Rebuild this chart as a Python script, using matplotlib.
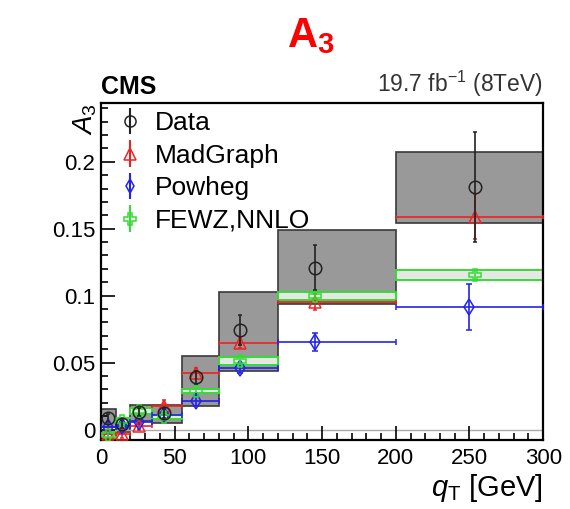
import matplotlib
matplotlib.use("Agg")
import matplotlib.pyplot as plt
from matplotlib.ticker import MultipleLocator, FixedLocator, FixedFormatter
import numpy as np

plt.rcParams["font.family"] = ["Liberation Sans", "DejaVu Sans"]
plt.rcParams["mathtext.fontset"] = "custom"
plt.rcParams["mathtext.rm"] = "Liberation Sans"
plt.rcParams["mathtext.it"] = "Liberation Sans:italic"
plt.rcParams["mathtext.bf"] = "Liberation Sans:bold"

# qT bins [GeV]
bin_edges = [0, 10, 20, 35, 55, 80, 120, 200, 300]
qt_mean = [4.5, 14.5, 26, 43, 64.5, 94.5, 145, 254]
powheg_x = [4.5, 14.5, 26, 43, 64.5, 94.5, 145, 250]

# data points and gray uncertainty boxes
data_y = [0.009, 0.004, 0.013, 0.0125, 0.039, 0.0745, 0.121, 0.181]
data_err = [0.003, 0.003, 0.003, 0.004, 0.005, 0.011, 0.017, 0.041]
box_lo = [0.002, -0.002, 0.0067, 0.005, 0.018, 0.044, 0.094, 0.154]
box_hi = [0.0155, 0.008, 0.0185, 0.0185, 0.055, 0.1025, 0.149, 0.207]

# predictions
mg_y = [-0.003, -0.003, 0.003, 0.018, 0.042, 0.065, 0.095, 0.159]
mg_err = [0.003, 0.003, 0.003, 0.004, 0.004, 0.004, 0.006, 0.017]
pw_y = [0.002, 0.003, 0.006, 0.011, 0.0215, 0.046, 0.0655, 0.0915]
pw_err = [0.002, 0.002, 0.002, 0.003, 0.004, 0.004, 0.0065, 0.017]
fewz_y = [-0.004, 0.0067, 0.014, 0.0097, 0.029, 0.051, 0.0995, 0.1155]
fewz_err = [0.0025, 0.002, 0.002, 0.0015, 0.0015, 0.003, 0.003, 0.0035]

xtick_vals = [0, 50, 100, 150, 200, 250, 300]
xtick_labels = ["0", "50", "100", "150", "200", "250", "300"]
ytick_vals = [0, 0.05, 0.1, 0.15, 0.2]
ytick_labels = ["0", "0.05", "0.1", "0.15", "0.2"]

edges = np.array(bin_edges, dtype=float)
lefts = edges[:-1]
widths = np.diff(edges)

fig = plt.figure(figsize=(5.7, 5.09), dpi=100)
ax = fig.add_axes([0.177, 0.1356, 0.776, 0.662])

# data uncertainty boxes
ax.bar(lefts, np.array(box_hi) - np.array(box_lo), bottom=box_lo, width=widths,
       align="edge", color="#999999", edgecolor="#3a3a3a", linewidth=1.2, zorder=1)
ax.axhline(0, color="#aaaaaa", linewidth=1.0, zorder=1.5)

# FEWZ band
fewz_lo = np.array(fewz_y) - np.array(fewz_err)
ax.bar(lefts, 2 * np.array(fewz_err), bottom=fewz_lo, width=widths, align="edge",
       color="#e6e6e6", edgecolor="#33dd33", linewidth=1.4, zorder=2)


def xerr_for(xs):
    xs = np.array(xs)
    return [xs - edges[:-1], edges[1:] - xs]


ax.errorbar(qt_mean, mg_y, yerr=mg_err, xerr=xerr_for(qt_mean), fmt="^", color="#ee2222",
            mfc="none", ms=9, mew=1.1, elinewidth=1.2, capsize=1.5, zorder=3)
ax.errorbar(powheg_x, pw_y, yerr=pw_err, xerr=xerr_for(powheg_x), fmt="d", color="#2222ee",
            mfc="none", ms=8, mew=1.1, elinewidth=1.2, capsize=2, zorder=3)
ax.errorbar(qt_mean, fewz_y, yerr=fewz_err, fmt="P", color="#33dd33",
            mfc="none", ms=9, mew=1.1, elinewidth=1.2, zorder=4)
ax.errorbar(qt_mean, data_y, yerr=data_err, fmt="o", color="#222222",
            mfc="none", ms=9, mew=1.1, elinewidth=1.2, capsize=1.5, zorder=5)

# legend proxies (vertical bars only, like the reference)
h_data = ax.errorbar([], [], yerr=[], fmt="o", color="#222222", mfc="none", ms=8, mew=1.1)
h_mg = ax.errorbar([], [], yerr=[], fmt="^", color="#ee2222", mfc="none", ms=8, mew=1.1)
h_pw = ax.errorbar([], [], yerr=[], fmt="d", color="#2222ee", mfc="none", ms=7, mew=1.1)
h_fz = ax.errorbar([], [], yerr=[], fmt="P", color="#33dd33", mfc="none", ms=8, mew=1.1)
ax.legend([h_data, h_mg, h_pw, h_fz], ["Data", "MadGraph", "Powheg", "FEWZ,NNLO"],
          loc="upper left", bbox_to_anchor=(0.0, 1.022), frameon=False, fontsize=19,
          handlelength=1.0, handletextpad=0.45, labelspacing=0.32, borderaxespad=0.2,
          borderpad=0.4)

ax.set_xlim(0, 300)
ax.set_ylim(-0.0077, 0.2438)
ax.xaxis.set_major_locator(FixedLocator(xtick_vals))
ax.xaxis.set_major_formatter(FixedFormatter(xtick_labels))
ax.xaxis.set_minor_locator(MultipleLocator(10))
ax.yaxis.set_major_locator(FixedLocator(ytick_vals))
ax.yaxis.set_major_formatter(FixedFormatter(ytick_labels))
ax.yaxis.set_minor_locator(MultipleLocator(0.01))
ax.tick_params(which="both", direction="in", top=False, right=False, labelsize=16, width=1.2)
ax.tick_params(which="major", length=10)
ax.tick_params(which="minor", length=5)
ax.tick_params(axis="y", pad=4)
ax.tick_params(axis="x", pad=6)
for s in ax.spines.values():
    s.set_linewidth(1.6)

ax.text(-0.036, 1.0, r"$A_{3}$", transform=ax.transAxes, rotation=90,
        ha="center", va="top", fontsize=20)
ax.text(1.0, -0.095, r"$q_{\mathrm{T}}$ [GeV]", transform=ax.transAxes,
        ha="right", va="top", fontsize=21)
ax.text(0.0, 1.012, "CMS", transform=ax.transAxes, ha="left", va="bottom",
        fontsize=18, fontweight="bold")
ax.text(1.0, 1.012, r"19.7 fb$^{-1}$ (8TeV)", transform=ax.transAxes, ha="right",
        va="bottom", fontsize=16.5, color="#333333")

fig.text(0.545, 0.93, r"$\mathbf{A_3}$", color="#ff0000", fontsize=30,
         ha="center", va="center")

fig.savefig("out.png", dpi=100)
